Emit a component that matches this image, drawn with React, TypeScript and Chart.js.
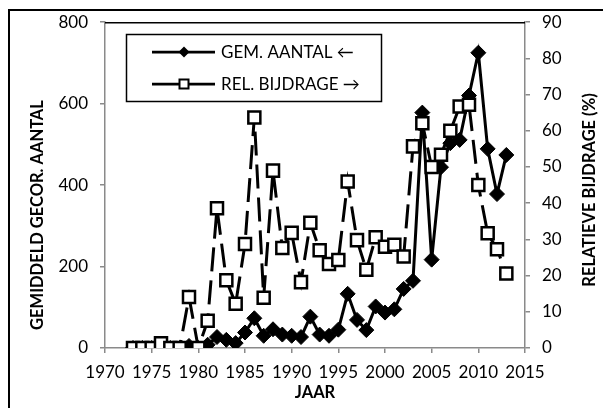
import React, { useEffect, useRef } from "react";
import { Chart, registerables } from "chart.js";

Chart.register(...registerables);

const years = [
  1973, 1974, 1975, 1976, 1977, 1978, 1979, 1980, 1981, 1982, 1983, 1984, 1985, 1986,
  1987, 1988, 1989, 1990, 1991, 1992, 1993, 1994, 1995, 1996, 1997, 1998, 1999, 2000,
  2001, 2002, 2003, 2004, 2005, 2006, 2007, 2008, 2009, 2010, 2011, 2012, 2013,
];

const gemAantal = [
  0, 0, 0, 0, 0, 0, 5, 0, 8, 27, 20, 12, 38, 73,
  30, 46, 33, 30, 27, 77, 33, 30, 45, 133, 69, 44, 102, 87,
  95, 145, 165, 578, 217, 444, 503, 511, 620, 725, 489, 378, 474,
];

const relBijdrage = [
  0, 0, 0, 1.3, 0, 0, 14.1, 0, 7.5, 38.6, 18.7, 12.2, 28.7, 63.7,
  13.9, 49.0, 27.6, 31.8, 18.2, 34.6, 27.0, 23.2, 24.3, 46.0, 29.8, 21.6, 30.6, 28.0,
  28.5, 25.3, 55.7, 62.1, 50.0, 53.4, 60.0, 66.7, 67.2, 45.0, 31.7, 27.3, 20.6,
];

const labelGem = "GEM. AANTAL \u2190";
const labelRel = "REL. BIJDRAGE \u2192";
const titleX = "JAAR";
const titleLeft = "GEMIDDELD GECOR. AANTAL";
const titleRight = "RELATIEVE BIJDRAGE (%)";

const FONT = "Lato, 'Open Sans', sans-serif";
const AXIS_GRAY = "#8a8a8a";

const overlayPlugin = {
  id: "overlay",
  afterDraw(chart: any) {
    const ctx = chart.ctx as CanvasRenderingContext2D;
    const a = chart.chartArea;
    ctx.save();
    // outer frame (left & top visible)
    ctx.strokeStyle = "#000";
    ctx.lineWidth = 2;
    ctx.beginPath();
    ctx.moveTo(9, 420);
    ctx.lineTo(9, 10);
    ctx.lineTo(620, 10);
    ctx.stroke();
    // top border of plot area
    ctx.lineWidth = 1.5;
    ctx.beginPath();
    ctx.moveTo(a.left, a.top + 0.5);
    ctx.lineTo(a.right, a.top + 0.5);
    ctx.stroke();

    // axis titles
    ctx.fillStyle = "#000";
    ctx.font = `bold 16.5px ${FONT}`;
    ctx.textAlign = "center";
    ctx.textBaseline = "middle";
    ctx.fillText(titleX, (a.left + a.right) / 2, 393);
    ctx.save();
    ctx.translate(38, 215);
    ctx.rotate(-Math.PI / 2);
    ctx.fillText(titleLeft, 0, 0);
    ctx.restore();
    ctx.save();
    ctx.translate(590, 190);
    ctx.rotate(-Math.PI / 2);
    ctx.fillText(titleRight, 0, 0);
    ctx.restore();

    // legend
    const lx = a.left + 21.5;
    const ly = 34.5;
    const lw = 255;
    const lh = 67;
    ctx.fillStyle = "#fff";
    ctx.fillRect(lx, ly, lw, lh);
    ctx.strokeStyle = "#000";
    ctx.lineWidth = 1.5;
    ctx.strokeRect(lx, ly, lw, lh);
    const rows = [
      { y: 52, label: labelGem, marker: "diamond" },
      { y: 84, label: labelRel, marker: "square" },
    ];
    for (const r of rows) {
      ctx.strokeStyle = "#000";
      ctx.lineWidth = 2.75;
      ctx.beginPath();
      ctx.moveTo(152, r.y);
      ctx.lineTo(215, r.y);
      ctx.stroke();
      const mx = 184;
      if (r.marker === "diamond") {
        ctx.fillStyle = "#000";
        ctx.beginPath();
        ctx.moveTo(mx, r.y - 5.5);
        ctx.lineTo(mx + 5.5, r.y);
        ctx.lineTo(mx, r.y + 5.5);
        ctx.lineTo(mx - 5.5, r.y);
        ctx.closePath();
        ctx.fill();
      } else {
        ctx.fillStyle = "#fff";
        ctx.lineWidth = 2;
        ctx.fillRect(mx - 4.5, r.y - 4.5, 9, 9);
        ctx.strokeRect(mx - 4.5, r.y - 4.5, 9, 9);
      }
      ctx.fillStyle = "#000";
      ctx.font = `17px ${FONT}`;
      ctx.textAlign = "left";
      ctx.textBaseline = "middle";
      ctx.fillText(r.label, 221, r.y + 1);
    }
    ctx.restore();
  },
};

export default function App() {
  const ref = useRef<HTMLCanvasElement | null>(null);
  useEffect(() => {
    if (!ref.current) return;
    const tickFont = { family: FONT, size: 17 };
    const chart = new Chart(ref.current, {
      type: "line",
      data: {
        datasets: [
          {
            label: labelRel,
            data: years.map((y, i) => ({ x: y, y: relBijdrage[i] })),
            yAxisID: "y1",
            borderColor: "#000",
            borderWidth: 3,
            borderDash: [24, 9],
            pointStyle: "rect",
            pointRadius: 8.5,
            pointBackgroundColor: "#fff",
            pointBorderColor: "#000",
            pointBorderWidth: 2.5,
            fill: false,
            tension: 0,
            order: 0,
          },
          {
            label: labelGem,
            data: years.map((y, i) => ({ x: y, y: gemAantal[i] })),
            yAxisID: "y",
            borderColor: "#000",
            borderWidth: 3,
            pointStyle: "rectRot",
            pointRadius: 7.5,
            pointBackgroundColor: "#000",
            pointBorderColor: "#000",
            pointBorderWidth: 1,
            fill: false,
            tension: 0,
            order: 1,
          },
        ],
      },
      options: {
        responsive: false,
        animation: false,
        layout: { padding: { top: 20, left: 0, right: 0, bottom: 0 } },
        plugins: { legend: { display: false }, tooltip: { enabled: false } },
        scales: {
          x: {
            type: "linear",
            min: 1970,
            max: 2015,
            ticks: {
              stepSize: 5,
              color: "#000",
              font: tickFont,
              padding: 9,
              maxRotation: 0,
              callback: (v: any) => String(v),
            },
            grid: { drawOnChartArea: false, tickLength: 5, color: AXIS_GRAY, lineWidth: 1.5 },
            border: { color: AXIS_GRAY, width: 1.5 },
            afterFit: (s: any) => {
              s.height = 60;
            },
          },
          y: {
            position: "left",
            min: 0,
            max: 800,
            ticks: {
              stepSize: 200,
              color: "#000",
              font: tickFont,
              padding: 12,
              callback: (v: any) => String(v),
            },
            grid: { drawOnChartArea: false, tickLength: 5, color: AXIS_GRAY, lineWidth: 1.5 },
            border: { color: AXIS_GRAY, width: 1.5 },
            afterFit: (s: any) => {
              s.width = 105;
            },
          },
          y1: {
            position: "right",
            min: 0,
            max: 90,
            ticks: {
              stepSize: 10,
              color: "#000",
              font: tickFont,
              padding: 12,
              callback: (v: any) => String(v),
            },
            grid: { drawOnChartArea: false, tickLength: 5, color: AXIS_GRAY, lineWidth: 1.5 },
            border: { color: AXIS_GRAY, width: 1.5 },
            afterFit: (s: any) => {
              s.width = 78;
            },
          },
        },
      } as any,
      plugins: [overlayPlugin],
    });
    return () => chart.destroy();
  }, []);
  return (
    <div style={{ position: "fixed", left: 0, top: 0, width: 603, height: 408, background: "#fff" }}>
      <canvas ref={ref} width={603} height={408} style={{ width: 603, height: 408, display: "block" }} />
    </div>
  );
}
